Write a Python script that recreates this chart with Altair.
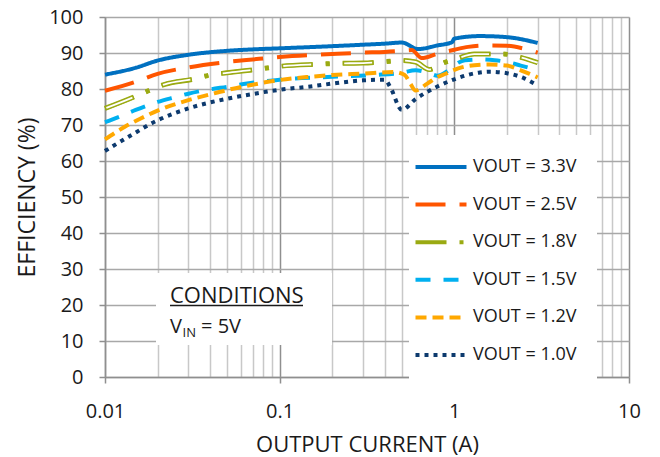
import altair as alt
import pandas as pd

SERIES = ["VOUT = 3.3V", "VOUT = 2.5V", "VOUT = 1.8V", "VOUT = 1.5V", "VOUT = 1.2V", "VOUT = 1.0V"]
COLORS = ["#0070C0", "#FF5500", "#9AAA12", "#00B0F0", "#FFA800", "#0D3A6E"]
DASHES = [[1, 0], [30, 14], [31, 13, 4, 13], [15, 13], [11, 6], [4, 5]]

I_33 = [0.01, 0.015, 0.02, 0.03, 0.05, 0.07, 0.1, 0.2, 0.3, 0.4, 0.5, 0.62, 0.8, 0.97, 1.0, 1.4, 2.0, 3.0]
E_33 = [84.0, 85.9, 87.9, 89.5, 90.6, 91.0, 91.3, 91.9, 92.3, 92.6, 92.9, 91.1, 92.1, 93.0, 94.0, 94.7, 94.4, 92.8]

I_25 = [0.01, 0.015, 0.02, 0.03, 0.05, 0.07, 0.1, 0.2, 0.3, 0.4, 0.5, 0.57, 0.65, 0.8, 1.0, 1.2, 1.6, 2.0, 2.5, 3.0]
E_25 = [79.5, 82.0, 84.2, 86.0, 87.5, 88.2, 88.9, 89.7, 90.1, 90.3, 90.6, 90.8, 88.6, 89.8, 90.9, 91.7, 92.1, 92.0, 91.2, 90.1]

I_18 = [0.01, 0.0145, 0.0177, 0.022, 0.0325, 0.04, 0.05, 0.07, 0.1, 0.17, 0.21, 0.3, 0.4, 0.5, 0.6, 0.72, 0.87, 1.04, 1.3, 1.9, 2.4, 3.0]
E_18 = [74.6, 77.7, 79.5, 81.3, 82.8, 83.9, 84.5, 85.3, 86.3, 86.9, 87.1, 87.2, 87.6, 87.9, 87.5, 85.4, 87.3, 88.5, 89.7, 89.7, 88.8, 87.3]

I_15 = [0.01, 0.0125, 0.015, 0.02, 0.025, 0.03, 0.04, 0.05, 0.065, 0.1, 0.2, 0.35, 0.5, 0.6, 0.7, 0.8, 0.9, 1.0, 1.15, 1.4, 1.7, 2.0, 2.4, 3.0]
E_15 = [70.8, 72.6, 74.2, 76.4, 77.7, 78.7, 79.9, 80.6, 81.5, 82.6, 83.4, 83.9, 84.5, 85.2, 84.6, 83.7, 84.8, 86.6, 88.0, 88.2, 88.0, 87.5, 86.5, 85.3]

I_12 = [0.01, 0.013, 0.016, 0.02, 0.03, 0.04, 0.05, 0.07, 0.1, 0.15, 0.2, 0.3, 0.45, 0.52, 0.56, 0.6, 0.7, 0.8, 0.9, 1.0, 1.1, 1.3, 1.6, 2.0, 2.4, 2.7, 3.0]
E_12 = [66.0, 69.5, 71.8, 74.0, 76.9, 78.5, 79.7, 81.2, 82.5, 83.4, 83.9, 84.3, 84.7, 83.9, 81.5, 79.6, 81.5, 83.3, 84.3, 85.3, 86.0, 86.6, 86.8, 86.5, 85.2, 84.2, 83.2]

I_10 = [0.01, 0.0135, 0.02, 0.03, 0.05, 0.07, 0.1, 0.15, 0.2, 0.3, 0.4, 0.43, 0.5, 0.6, 0.8, 1.0, 1.4, 1.6, 2.0, 2.5, 3.0]
E_10 = [62.8, 66.6, 71.3, 74.6, 77.3, 78.6, 79.8, 80.7, 81.5, 82.4, 82.6, 80.5, 74.2, 77.2, 80.7, 82.7, 84.6, 84.8, 84.4, 83.0, 81.0]

X_GRID = [round(m * d, 4) for d in [0.01, 0.1, 1] for m in range(1, 10)] + [10]
Y_TICKS = list(range(0, 101, 10))

rows = []
for name, xs, ys in zip(SERIES, [I_33, I_25, I_18, I_15, I_12, I_10], [E_33, E_25, E_18, E_15, E_12, E_10]):
    for k, (x, y) in enumerate(zip(xs, ys)):
        rows.append({"series": name, "current": x, "eff": y, "order": k})
df = pd.DataFrame(rows)
one = pd.DataFrame({"k": [0]})

FONT = "Open Sans"
TXT = "#1a1a1a"
is_dec = "indexof([0.01, 0.1, 1, 10], datum.value) >= 0"

x_enc = alt.X(
    "current:Q",
    scale=alt.Scale(type="log", domain=[0.01, 10]),
    axis=alt.Axis(
        values=X_GRID, format="~g", labelExpr=f"{is_dec} ? datum.label : ''",
        title="OUTPUT CURRENT (A)",
        grid=True,
        gridColor={"condition": {"test": is_dec, "value": "#8f8f8f"}, "value": "#c8c8c8"},
        gridWidth=1.5,
        tickOpacity={"condition": {"test": is_dec, "value": 1}, "value": 0},
        tickSize=6, tickColor="#8f8f8f", tickWidth=1.5,
        domainColor="#8f8f8f", domainWidth=1.5,
        labelPadding=18, labelFontSize=20, labelFont=FONT, labelColor=TXT,
        labelFlush=False, labelOverlap=False,
        titleFont=FONT, titleFontSize=22, titleFontWeight="normal", titleColor=TXT,
        titleY=74, titleBaseline="alphabetic",
    ),
)
y_enc = alt.Y(
    "eff:Q",
    scale=alt.Scale(domain=[0, 100], nice=False),
    axis=alt.Axis(
        values=Y_TICKS, title="EFFICIENCY (%)",
        grid=True, gridColor="#a8a8a8", gridWidth=1.5,
        tickSize=6, tickColor="#8f8f8f", tickWidth=1.5,
        domainColor="#8f8f8f", domainWidth=1.5,
        labelPadding=16, labelFontSize=20, labelFont=FONT, labelColor=TXT,
        titleFont=FONT, titleFontSize=23, titleFontWeight="normal", titleColor=TXT,
        titleX=-78, titleY=180, titleAlign="center", titleBaseline="middle",
    ),
)


def legend():
    return alt.Legend(
        title=None, orient="none", legendX=304, legendY=118, direction="vertical",
        fillColor="white", padding=20, rowPadding=16.6,
        symbolType="M-2.55,0H2.55", symbolSize=400, symbolStrokeWidth=4,
        labelFont=FONT, labelFontSize=18, labelColor=TXT, labelOffset=20,
    )


lines = alt.Chart(df).mark_line(strokeWidth=4, interpolate="monotone").encode(
    x=x_enc, y=y_enc,
    color=alt.Color("series:N", scale=alt.Scale(domain=SERIES, range=COLORS), legend=legend()),
    strokeDash=alt.StrokeDash("series:N", scale=alt.Scale(domain=SERIES, range=DASHES), legend=legend()),
    order="order:Q",
)

green = df[df["series"] == "VOUT = 1.8V"]
green_outer = alt.Chart(green).mark_line(
    strokeWidth=5, interpolate="monotone", color=COLORS[2], strokeDash=DASHES[2]
).encode(x=x_enc, y=y_enc, order="order:Q")
green_inner = alt.Chart(green).mark_line(
    strokeWidth=1.8, interpolate="monotone", color="white", strokeDash=[28, 33], strokeDashOffset=-1.5
).encode(x=x_enc, y=y_enc, order="order:Q")

# "CONDITIONS" annotation box (pixel positions inside the plot area)
box = alt.Chart(one).mark_rect(color="white").encode(
    x=alt.value(51), x2=alt.value(227), y=alt.value(256), y2=alt.value(328)
)
cond = alt.Chart(one).mark_text(
    text="CONDITIONS", font=FONT, fontSize=22, color=TXT, align="left", baseline="alphabetic"
).encode(x=alt.value(65), y=alt.value(286))
underline = alt.Chart(one).mark_rule(color=TXT, strokeWidth=1.3).encode(
    x=alt.value(65), x2=alt.value(198), y=alt.value(288.5)
)
v_txt = alt.Chart(one).mark_text(
    text="V", font=FONT, fontSize=20, color=TXT, align="left", baseline="alphabetic"
).encode(x=alt.value(65), y=alt.value(316))
in_txt = alt.Chart(one).mark_text(
    text="IN", font=FONT, fontSize=13, color=TXT, align="left", baseline="alphabetic"
).encode(x=alt.value(77.5), y=alt.value(319.5))
eq_txt = alt.Chart(one).mark_text(
    text="= 5V", font=FONT, fontSize=20, color=TXT, align="left", baseline="alphabetic"
).encode(x=alt.value(96), y=alt.value(316))

chart = alt.layer(
    lines, box, underline, cond, v_txt, in_txt, eq_txt, green_outer, green_inner
).properties(
    width=524, height=360,
    autosize=alt.AutoSizeParams(type="none"),
    padding={"left": 97, "top": 9, "right": 23, "bottom": 84},
).configure_view(stroke=None).configure(font=FONT)

chart.save("out.html", embed_options={"renderer": "svg", "actions": False})
